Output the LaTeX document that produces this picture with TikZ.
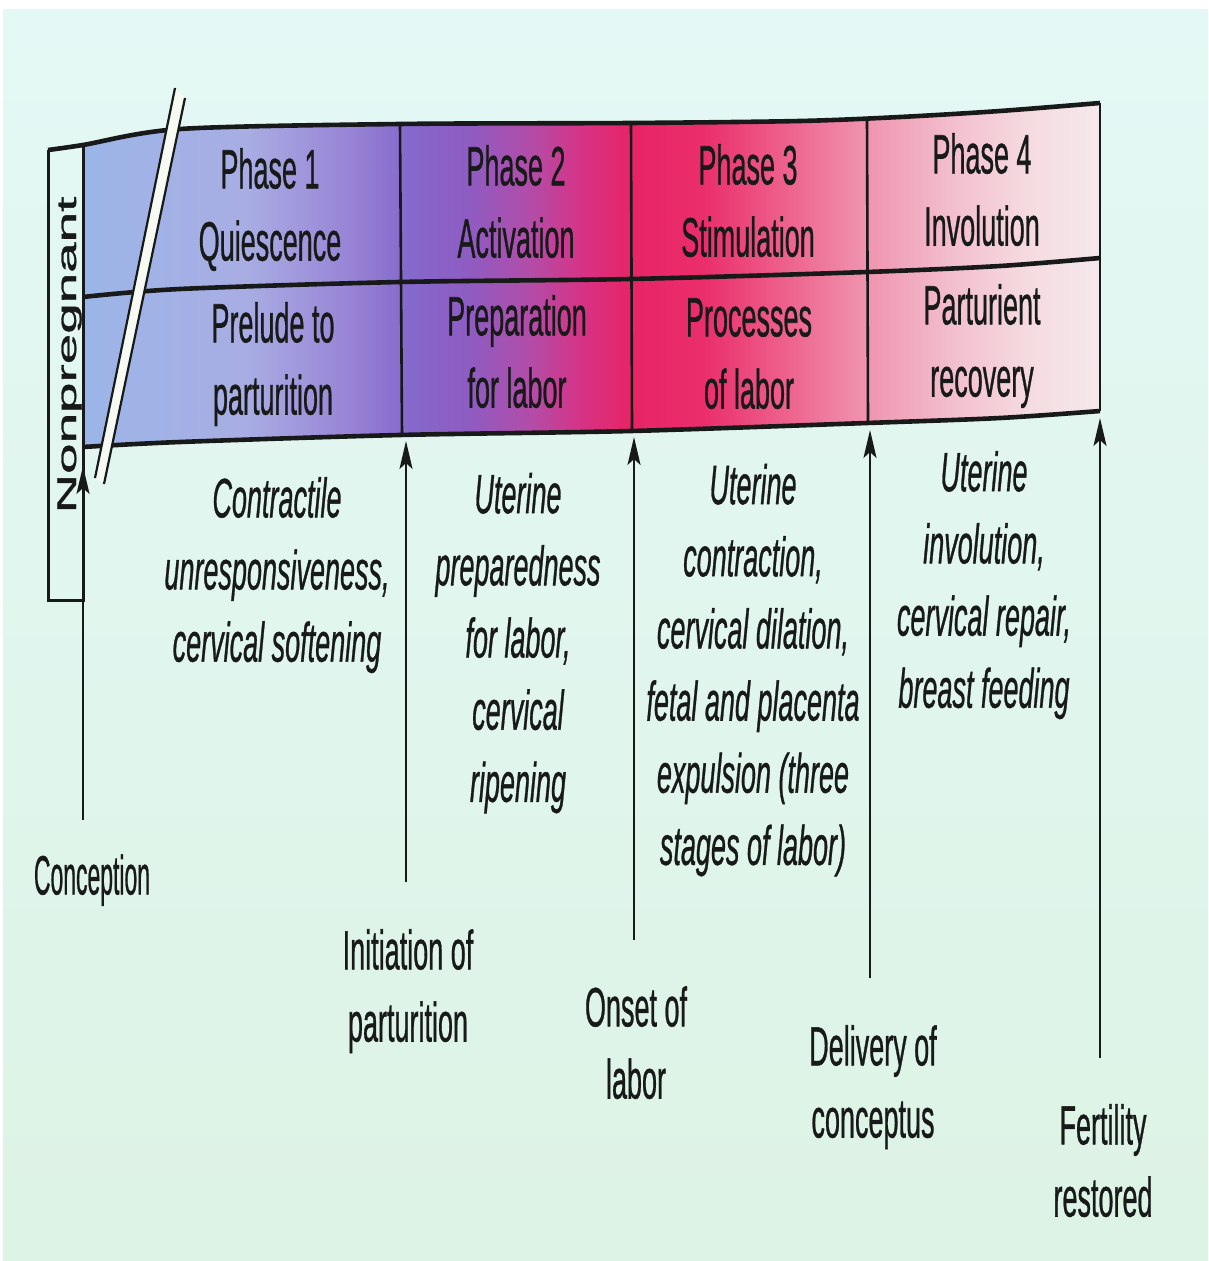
\documentclass[tikz,border=0pt]{standalone}
\usepackage{fontspec}
\setmainfont{Liberation Sans}[FakeBold=1]
\usepackage{graphicx}
\usepackage{tikz}
\usetikzlibrary{arrows.meta}
\definecolor{paperhi}{RGB}{228,248,245}
\definecolor{paperlo}{RGB}{221,243,229}
\definecolor{ink}{RGB}{24,26,26}
\definecolor{slashfill}{RGB}{246,250,242}
% colour run of the four phases, left (blue) to right (pale pink)
\pgfdeclarehorizontalshading{phaseband}{100bp}{%
  rgb(0bp)=(0.61,0.71,0.91);
  rgb(25bp)=(0.61,0.71,0.91);
  rgb(33bp)=(0.66,0.68,0.89);
  rgb(38bp)=(0.60,0.52,0.84);
  rgb(41bp)=(0.52,0.41,0.80);
  rgb(44bp)=(0.56,0.36,0.76);
  rgb(47bp)=(0.70,0.30,0.66);
  rgb(49.5bp)=(0.84,0.20,0.52);
  rgb(52bp)=(0.91,0.14,0.40);
  rgb(55.5bp)=(0.92,0.18,0.42);
  rgb(59.5bp)=(0.93,0.38,0.55);
  rgb(63.5bp)=(0.94,0.58,0.69);
  rgb(67.5bp)=(0.95,0.74,0.80);
  rgb(71.5bp)=(0.96,0.86,0.88);
  rgb(75bp)=(0.96,0.91,0.92);
  rgb(100bp)=(0.96,0.91,0.92)}
% tall, narrow lettering of the printed figure
\newcommand{\tall}[2][1]{\scalebox{#1}[2.05]{\begin{tabular}{@{}c@{}}#2\end{tabular}}}
\tikzset{
  rule/.style={line width=2.3pt, draw=ink},
  divider/.style={line width=1.3pt, draw=ink},
  slashline/.style={line width=1.1pt, draw=ink},
  riser/.style={line width=1.1pt, draw=ink, -{Stealth[length=14pt,width=6.5pt,inset=3pt]}},
  cell/.style={inner sep=0pt, text=ink, font=\fontsize{13.5}{17.6}\selectfont},
  note/.style={cell, font=\fontsize{13.5}{17.6}\selectfont\itshape},
}

\begin{document}
\begin{tikzpicture}[x=0.5pt, y=-0.5pt]
\useasboundingbox (0,0) rectangle (1208,1261);
% ---- page ---------------------------------------------------------
\fill[white] (0,0) rectangle (1208,1261);
\shade[top color=paperhi, bottom color=paperlo] (3,10) rectangle (1208,1261);
% ---- phase band ---------------------------------------------------
\shade[shading=phaseband]
  plot[smooth] coordinates {(83,145) (180,129) (400,124) (631,123)
                            (800,121) (900,117) (1000,111) (1100,103)}
  -- plot[smooth] coordinates {(1100,411) (1000,418) (867,423) (631,431)
                               (400,435) (180,442) (83,447)} -- cycle;
\draw[rule] plot[smooth] coordinates {(48,150) (83,145) (180,129)
   (400,124) (631,123) (800,121) (900,117) (1000,111) (1100,103)};
\draw[rule] plot[smooth] coordinates {(83,297) (180,289) (400,282) (631,279)
   (867,272) (1000,266) (1100,258)};
\draw[rule] plot[smooth] coordinates {(83,447) (180,442) (400,435) (631,431)
   (867,423) (1000,418) (1100,411)};
\draw[divider] (400,124) -- (402,435);
\draw[divider] (631,123) -- (632,431);
\draw[divider] (867,119) -- (868,423);
\draw[divider] (1100,103) -- (1100,411);
% ---- nonpregnant box ----------------------------------------------
\draw[line width=1.5pt, ink] (83,145) -- (83,600) -- (48,600) -- (48,150);
\node[cell, rotate=90] (nonpreg) at (69,355)
  {\scalebox{2.03}[1]{\begin{tabular}{@{}c@{}}Nonpregnant\end{tabular}}};
% ---- time break ---------------------------------------------------
\fill[slashfill] (175,88) -- (185,98) -- (104,484) -- (95,478) -- cycle;
\draw[slashline] (175,88) -- (95,478);
\draw[slashline] (185,98) -- (104,484);
% ---- phase names --------------------------------------------------
\node[cell] (ph1top) at (270,210) {\tall{Phase 1\\Quiescence}};
\node[cell] (ph1bot) at (273,364) {\tall{Prelude to\\parturition}};
\node[cell] (ph2top) at (516,207) {\tall{Phase 2\\Activation}};
\node[cell] (ph2bot) at (517,357) {\tall{Preparation\\for labor}};
\node[cell] (ph3top) at (748,206) {\tall{Phase 3\\Stimulation}};
\node[cell] (ph3bot) at (749,358) {\tall{Processes\\of labor}};
\node[cell] (ph4top) at (982,195) {\tall{Phase 4\\Involution}};
\node[cell] (ph4bot) at (982,346) {\tall{Parturient\\recovery}};
% ---- what happens in each phase ------------------------------------
\node[note] (ph1note) at (277,575)
  {\tall{Contractile\\unresponsiveness,\\cervical softening}};
\node[note] (ph2note) at (518,643)
  {\tall{Uterine\\preparedness\\for labor,\\cervical\\ripening}};
\node[note] (ph3note) at (753,670)
  {\tall{Uterine\\contraction,\\cervical dilation,\\fetal and placenta\\expulsion (three\\stages of labor)}};
\node[note] (ph4note) at (984,585)
  {\tall{Uterine\\involution,\\cervical repair,\\breast feeding}};
% ---- events -------------------------------------------------------
\node[cell] (conception) at (92,880) {\tall[0.85]{Conception}};
\node[cell] (initiation) at (408,991) {\tall{Initiation of\\parturition}};
\node[cell] (onset) at (636,1048) {\tall{Onset of\\labor}};
\node[cell] (delivery) at (873,1087) {\tall{Delivery of\\conceptus}};
\node[cell] (fertility) at (1103,1166) {\tall{Fertility\\restored}};
\coordinate (concfoot) at (83,820);    \coordinate (conctip) at (83,466);
\coordinate (initfoot) at (406,882);   \coordinate (inittip) at (406,441);
\coordinate (onsetfoot) at (634,940);  \coordinate (onsettip) at (634,437);
\coordinate (delivfoot) at (870,978);  \coordinate (delivtip) at (870,430);
\coordinate (fertfoot) at (1100,1058); \coordinate (ferttip) at (1100,418);
\draw[riser] (concfoot) -- (conctip);
\draw[riser] (initfoot) -- (inittip);
\draw[riser] (onsetfoot) -- (onsettip);
\draw[riser] (delivfoot) -- (delivtip);
\draw[riser] (fertfoot) -- (ferttip);
\end{tikzpicture}
\end{document}
